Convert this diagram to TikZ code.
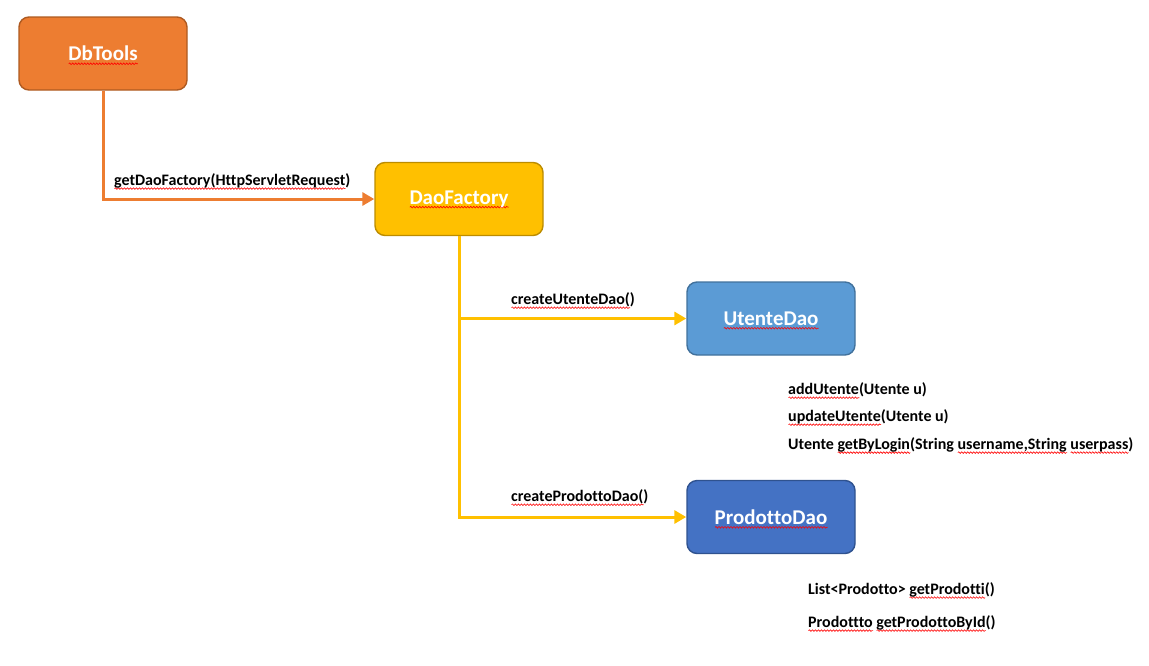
\documentclass[tikz,border=0pt]{standalone}
\usepackage{fontspec}
\setmainfont[Ligatures={NoCommon}]{Carlito}
\usetikzlibrary{arrows.meta,decorations.pathmorphing}
\definecolor{dbfill}{HTML}{ED7D31}
\definecolor{dbline}{HTML}{AE5A21}
\definecolor{dffill}{HTML}{FFC000}
\definecolor{dfline}{HTML}{BC8C00}
\definecolor{utfill}{HTML}{5B9BD5}
\definecolor{utline}{HTML}{41719C}
\definecolor{prfill}{HTML}{4472C4}
\definecolor{prline}{HTML}{2F528F}
% red wavy underline for spell-checked words
\newlength\wavelen
\newcommand\spellwave[1]{\settowidth\wavelen{#1}%
  \rlap{\smash{\raisebox{-3pt}{\tikz[baseline=0pt]\draw[red, sharp corners, line width=0.6pt,
    decorate, decoration={snake, amplitude=0.8pt, segment length=3pt}]
    (0pt,0pt) -- (\wavelen,0pt);}}}#1}
\tikzset{
  classbox/.style={draw, rounded corners=10pt, line width=1.4pt, minimum width=168pt,
    minimum height=73pt, text=white, font=\fontsize{21}{25}\selectfont\bfseries},
  calllabel/.style={anchor=west, inner sep=0pt, font=\fontsize{16}{19}\selectfont\bfseries},
  callarrow/.style={line width=3pt, -{Triangle[length=12pt,width=13pt]}},
}
\begin{document}
\begin{tikzpicture}[x=1pt,y=-1pt]
\useasboundingbox (0,0) rectangle (1149,665);

% classes
\node[classbox, fill=dbfill, draw=dbline] (dbtools) at (103,53.5) {\raisebox{-1.5pt}{\spellwave{DbTools}}};
\node[classbox, fill=dffill, draw=dfline] (daofactory) at (459,199) {\raisebox{-1.5pt}{\spellwave{DaoFactory}}};
\node[classbox, fill=utfill, draw=utline] (utentedao) at (771,318.5) {\raisebox{-1.5pt}{\spellwave{UtenteDao}}};
\node[classbox, fill=prfill, draw=prline] (prodottodao) at (771,517) {\raisebox{-1.5pt}{\spellwave{ProdottoDao}}};

% factory calls
\draw[callarrow, dbfill] (dbtools.south) |- (daofactory.west);
\draw[callarrow, dffill] (daofactory.south) |- (utentedao.west);
\draw[callarrow, dffill] (daofactory.south) |- (prodottodao.west);

\node[calllabel] (lblfactory) at (114,181) {\spellwave{getDaoFactory(HttpServletRequest})};
\node[calllabel] (lblutente) at (511,300) {\spellwave{createUtenteDao(})};
\node[calllabel] (lblprodotto) at (511,497) {\spellwave{createProdottoDao(})};

% methods of UtenteDao
\node[calllabel] (m1) at (788,390) {\spellwave{addUtente}(Utente u)};
\node[calllabel] (m2) at (788,417) {\spellwave{updateUtente}(Utente u)};
\node[calllabel] (m3) at (788,445) {Utente \spellwave{getByLogin}(String \spellwave{username,String} \spellwave{userpass})};

% methods of ProdottoDao
\node[calllabel] (m4) at (808,590) {List<Prodotto> \spellwave{getProdotti}()};
\node[calllabel] (m5) at (808,623) {\spellwave{Prodottto} \spellwave{getProdottoById}()};
\end{tikzpicture}
\end{document}
